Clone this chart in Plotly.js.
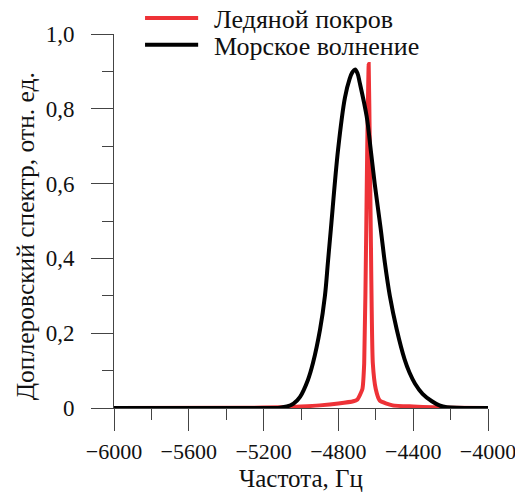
<!DOCTYPE html>
<html>
<head>
<meta charset="utf-8">
<script src="https://cdn.plot.ly/plotly-3.0.1.min.js"></script>
<style>html,body{margin:0;padding:0;background:#fff;}#chart{width:515px;height:494px;}</style>
</head>
<body>
<div id="chart"></div>
<script>
// Frequency (Hz) and normalized spectrum values
const iceFreq = [-6000, -5300, -5100, -5000, -4900, -4800, -4720, -4700, -4672, -4662, -4651, -4646, -4638, -4632, -4627, -4616, -4600, -4579, -4510, -4400, -4295, -4200, -4000];
const iceVal  = [0.0, 0.0005, 0.002, 0.004, 0.007, 0.012, 0.018, 0.022, 0.05, 0.12, 0.48, 0.69, 0.92, 0.69, 0.48, 0.12, 0.05, 0.02, 0.007, 0.004, 0.002, 0.001, 0.0];

const seaFreq = [-6000, -5400, -5200, -5113, -5075, -5040, -5005, -4963, -4936, -4898, -4872, -4856, -4840, -4802, -4765, -4740, -4725, -4711, -4698, -4686, -4649, -4627, -4606, -4574, -4552, -4525, -4488, -4446, -4420, -4390, -4350, -4300, -4260, -4220, -4000];
const seaVal  = [0.0, 0.0, 0.0, 0.001, 0.004, 0.012, 0.03, 0.075, 0.12, 0.21, 0.30, 0.39, 0.48, 0.69, 0.83, 0.88, 0.898, 0.905, 0.895, 0.87, 0.78, 0.69, 0.60, 0.48, 0.39, 0.30, 0.21, 0.13, 0.095, 0.065, 0.038, 0.018, 0.007, 0.002, 0.0];

const seriesNames = ["Ледяной покров", "Морское волнение"];
const seriesColors = ["#ee3237", "#000000"];
const xTickVals = [-6000, -5600, -5200, -4800, -4400, -4000];
const xTickText = ["\u22126000", "\u22125600", "\u22125200", "\u22124800", "\u22124400", "\u22124000"];
const yTickVals = [0, 0.2, 0.4, 0.6, 0.8, 1.0];
const yTickText = ["0", "0,2", "0,4", "0,6", "0,8", "1,0"];
const xTitle = "Частота, Гц";
const yTitle = "Доплеровский спектр, отн. ед.";

const FONT = "Liberation Serif, Times New Roman, serif";
const axisCol = "#444";
const txtCol = "#111";

const traces = [
  {x: iceFreq, y: iceVal, name: seriesNames[0], type: "scatter", mode: "lines",
   line: {color: seriesColors[0], width: 4, shape: "spline", smoothing: 0.5}},
  {x: seaFreq, y: seaVal, name: seriesNames[1], type: "scatter", mode: "lines",
   line: {color: seriesColors[1], width: 4, shape: "spline", smoothing: 1}}
];

// custom legend (line samples + labels) in paper coordinates
const legendRows = [1.043, 0.971];
const shapes = [];
const annotations = [];
seriesNames.forEach((n, i) => {
  shapes.push({type: "line", xref: "paper", yref: "paper", x0: 0.083, x1: 0.225,
               y0: legendRows[i], y1: legendRows[i], line: {color: seriesColors[i], width: 4}});
  annotations.push({xref: "paper", yref: "paper", x: 0.262, y: legendRows[i] - 0.004,
                    xanchor: "left", yanchor: "middle", showarrow: false, text: n,
                    font: {family: FONT, size: 26, color: txtCol}});
});
annotations.push({xref: "paper", yref: "paper", x: 0.5, y: -0.188, xanchor: "center", yanchor: "middle",
                  showarrow: false, text: xTitle, font: {family: FONT, size: 25, color: txtCol}});
annotations.push({xref: "paper", yref: "paper", x: -0.238, y: 0.459, xanchor: "center", yanchor: "middle",
                  textangle: -90, showarrow: false, text: yTitle, font: {family: FONT, size: 25.5, color: txtCol}});

const layout = {
  width: 515, height: 494,
  margin: {l: 114, r: 27, t: 34, b: 86, autoexpand: false},
  paper_bgcolor: "#fff", plot_bgcolor: "#fff",
  font: {family: FONT, size: 22, color: txtCol},
  showlegend: false,
  shapes: shapes,
  annotations: annotations,
  xaxis: {
    range: [-6000, -4000], tickvals: xTickVals, ticktext: xTickText,
    ticks: "outside", ticklen: 22, tickcolor: axisCol, tickwidth: 1,
    minor: {dtick: 200, tick0: -6000, ticks: "outside", ticklen: 11, tickcolor: axisCol, tickwidth: 1},
    showline: true, linecolor: axisCol, linewidth: 1,
    showgrid: false, zeroline: false,
    tickfont: {family: FONT, size: 22, color: txtCol},
    ticklabelstandoff: 2, ticklabeloverflow: "allow"
  },
  yaxis: {
    range: [0, 1.0], tickvals: yTickVals, ticktext: yTickText,
    ticks: "outside", ticklen: 22, tickcolor: axisCol, tickwidth: 1,
    minor: {dtick: 0.1, tick0: 0, ticks: "outside", ticklen: 11, tickcolor: axisCol, tickwidth: 1},
    showline: true, linecolor: axisCol, linewidth: 1,
    showgrid: false, zeroline: false,
    tickfont: {family: FONT, size: 23, color: txtCol},
    ticklabelstandoff: 12
  }
};

Plotly.newPlot("chart", traces, layout, {displayModeBar: false, staticPlot: true});
</script>
</body>
</html>
